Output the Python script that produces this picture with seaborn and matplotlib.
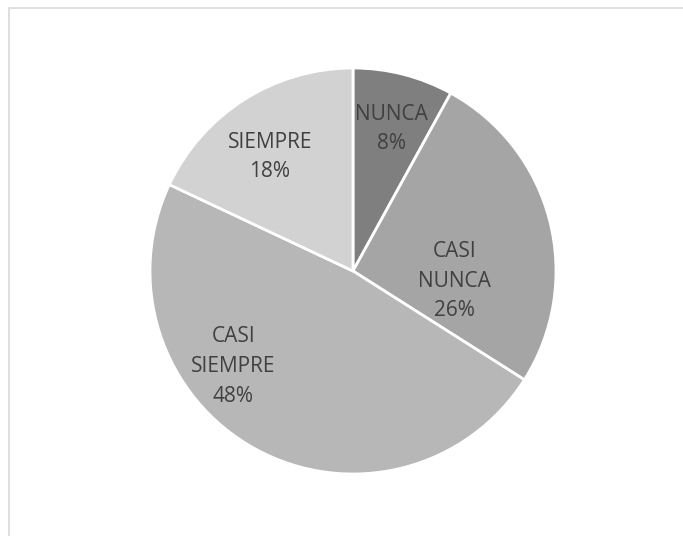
import matplotlib
matplotlib.use("Agg")
import matplotlib.pyplot as plt
import seaborn as sns
from matplotlib.patches import Rectangle

categories = ["NUNCA", "CASI\nNUNCA", "CASI\nSIEMPRE", "SIEMPRE"]
values = [8, 26, 48, 18]
colors = ["#7f7f7f", "#a5a5a5", "#b7b7b7", "#d2d2d2"]

sns.set_theme(style="white")
plt.rcParams["font.family"] = ["Open Sans", "DejaVu Sans"]

W, H = 683, 536
fig = plt.figure(figsize=(W / 100, H / 100), dpi=100)
fig.patch.set_facecolor("white")

cx, cy, r = 353, 271, 203
ax = fig.add_axes([(cx - r) / W, (H - cy - r) / H, 2 * r / W, 2 * r / H])

wedges, texts = ax.pie(
    values,
    colors=colors,
    startangle=90,
    counterclock=False,
    radius=1,
    labels=[f"{c}\n{v}%" for c, v in zip(categories, values)],
    labeldistance=0.6,
    wedgeprops=dict(edgecolor="white", linewidth=2),
    textprops=dict(color="#404040", fontsize=15, ha="center", va="center", linespacing=1.55),
)
# label placement (layout, in radius units)
label_pos = [(0.19, 0.70), (0.502, -0.05), (-0.59, -0.47), (-0.409, 0.562)]
for t, (x, y) in zip(texts, label_pos):
    t.set_position((x, y))
    t.set_ha("center")
    t.set_va("center")

ax.set_xlim(-1, 1)
ax.set_ylim(-1, 1)
ax.set_aspect("equal")
ax.axis("off")

fig.patches.append(Rectangle((8.5 / W, -0.1), 1.2, 1 - 7.5 / H + 0.1,
                             transform=fig.transFigure, fill=False,
                             edgecolor="#d9d9d9", linewidth=1.2, zorder=0))

fig.savefig("out.png", dpi=100, facecolor="white")
